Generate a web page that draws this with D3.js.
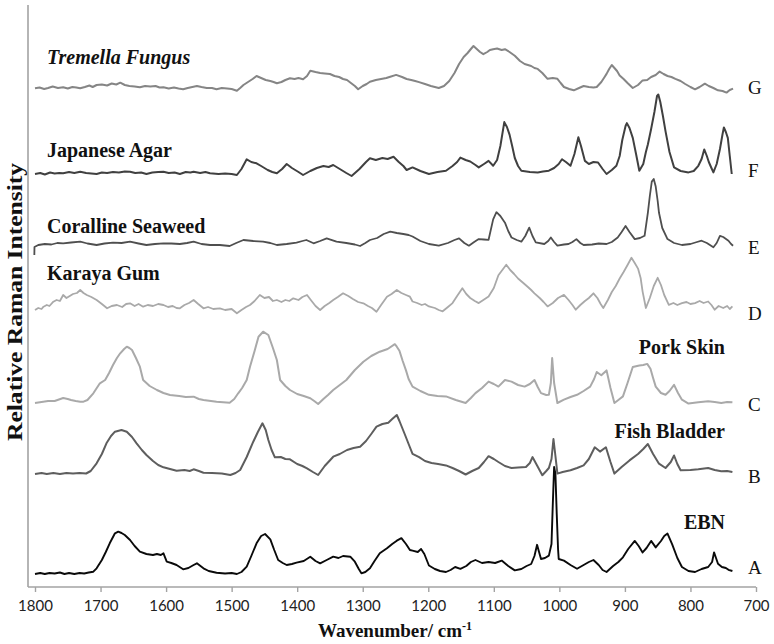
<!DOCTYPE html>
<html>
<head>
<meta charset="utf-8">
<script src="https://cdn.jsdelivr.net/npm/d3@7"></script>
<style>
  html, body { margin: 0; padding: 0; background: #fff; }
  svg { display: block; }
</style>
</head>
<body>
<svg id="chart" width="774" height="644"></svg>
<script>
// ---------- DATA (wavenumber cm-1, relative intensity above each trace's baseline) ----------
const xTicks = [1800, 1700, 1600, 1500, 1400, 1300, 1200, 1100, 1000, 900, 800, 700];
const seriesIds = ["A", "B", "C", "D", "E", "F", "G"];
const seriesNames = ["EBN", "Fish Bladder", "Pork Skin", "Karaya Gum", "Coralline Seaweed", "Japanese Agar", "Tremella Fungus"];
const seriesOffsets = [13, 113, 184, 277, 341, 413, 498];

const spectrumA = [[1800,0],[1792,1],[1785,0],[1778,1],[1770,0.5],[1762,1.5],[1755,0],[1748,1],[1740,0],[1732,1],[1725,0.5],[1718,1.5],[1711,2.3],[1706,5.7],[1698,14],[1692,22],[1686,30.7],[1678,40.7],[1673,42.3],[1668,41],[1663,39],[1655,34],[1648,28],[1640,22.3],[1630,20],[1620,19],[1614,20],[1608,19],[1604,20.7],[1599,12.3],[1592,11],[1584,9],[1574,4.7],[1566,6],[1558,9],[1553,10.7],[1543,5.7],[1535,3],[1523,1.3],[1510,0.5],[1500,1],[1492,0],[1485,2],[1477,7.3],[1470,18],[1462,30.7],[1455,38],[1449,40],[1441,34.7],[1435,24],[1429,14],[1422,11],[1416,9],[1408,10],[1401,11.3],[1390,13],[1380,17.3],[1372,13],[1365,10.7],[1355,14],[1345,17.3],[1337,16],[1330,18],[1319,17.3],[1312,12.3],[1306,5],[1302,0.7],[1296,2],[1289,5.7],[1282,13],[1274,20.7],[1263,25.7],[1255,30],[1248,33.3],[1241,35.8],[1234,30],[1228,24],[1224,23.3],[1216,22],[1211,25],[1206,20],[1199,8.5],[1190,5],[1182,3],[1173,2],[1166,4],[1159,7],[1151,5.2],[1142,8],[1135,12],[1128,14],[1118,11],[1108,12],[1098,11],[1088,13.4],[1078,8],[1068,3.6],[1058,5],[1050,8],[1043,10],[1038,18],[1034,29.2],[1031,22],[1028,15],[1022,16],[1016,18.4],[1012,30],[1010,70],[1008,107],[1006,100],[1004,60],[1002,25],[1001,15],[993,13.4],[983,9],[973,5.2],[963,9],[955,12],[948,14],[940,9],[934,4],[928,2],[918,8],[910,12],[903,16.7],[895,25],[885,33.1],[879,28],[873,21.6],[867,26],[860,33.1],[853,26.6],[845,33],[840,38],[835,40.4],[828,29.8],[820,16],[813,7],[803,3],[793,2],[783,5],[773,7],[767,12],[764,21.6],[761,16],[758,10.2],[752,7],[746,6],[742,4.2],[736,3]];

const spectrumB = [[1800,0],[1790,1],[1782,0],[1772,1],[1762,0],[1752,1],[1742,0.5],[1732,1],[1722,0.5],[1715,3],[1706,10.7],[1698,20],[1691,30.7],[1684,38],[1678,42.3],[1668,44],[1660,42.3],[1652,37],[1645,30.7],[1637,24],[1630,19],[1620,13],[1612,9],[1604,6.7],[1594,5],[1584,3.3],[1572,4],[1564,3],[1558,4.7],[1550,3],[1543,1.3],[1530,1],[1515,0.5],[1502,-1],[1494,1],[1487,4],[1477,17],[1467,32.3],[1460,42],[1453,50.7],[1448,44],[1444,34],[1439,24],[1434,16.7],[1425,17],[1418,15],[1411,14.7],[1400,10],[1392,8],[1385,5.7],[1376,2],[1368,-1],[1358,8],[1345,17.3],[1335,20],[1324,24],[1314,26],[1304,27.3],[1295,33],[1287,40],[1279,47.3],[1270,50],[1261,51.3],[1255,55],[1248,59],[1244,53],[1236,40],[1230,30],[1224,20.1],[1214,16.8],[1205,13],[1195,11],[1185,10],[1173,8.6],[1163,6],[1153,3],[1143,-0.5],[1133,3],[1123,6],[1115,12],[1108,17.8],[1100,15],[1093,12],[1083,8],[1073,6],[1063,6.5],[1051,7],[1045,11],[1041,16.9],[1034,8.6],[1026,-1.2],[1020,3],[1016,6],[1012,15],[1009,35],[1006,18],[1003,0.4],[995,2],[983,3.7],[973,6],[963,8.6],[955,15],[946,26.7],[938,22.4],[929,26.7],[922,12],[916,0.4],[905,7],[893,13.6],[880,20],[872,25],[865,30],[857,20],[848,10.3],[838,6],[830,12],[825,18.5],[820,10],[815,3.7],[800,4],[788,4.7],[773,6],[763,4],[753,2.7],[744,3],[736,2]];

const spectrumC = [[1800,0],[1790,1],[1780,2],[1770,2],[1757,5],[1750,4],[1745,3],[1738,2],[1731,1.3],[1726,1.3],[1720,3],[1711,9.7],[1701,19.7],[1693,23],[1687,30],[1681,38],[1675,45],[1670,49.7],[1664,54],[1660,56.3],[1656,55],[1652,53],[1646,45],[1640,36.3],[1635,23],[1625,17],[1614,13],[1604,10],[1594,8],[1580,7],[1570,6],[1558,6.3],[1550,4],[1543,3],[1523,1.3],[1503,0.3],[1496,4],[1490,9.7],[1484,15],[1477,23],[1472,36.3],[1465,52],[1459,66.3],[1452,71.3],[1444,68],[1437,55],[1431,43],[1426,23],[1418,17],[1411,13],[1400,9],[1390,7],[1380,4.7],[1374,2],[1368,-1],[1360,4],[1353,8],[1345,13],[1335,18],[1325,23],[1312,33],[1299,41.3],[1287,47],[1274,51.3],[1262,54],[1251,58.8],[1248,56.3],[1244,52.3],[1239,42],[1234,32.6],[1230,24],[1224,16.4],[1212,12],[1199,8.2],[1186,7],[1173,6.6],[1158,3],[1143,0],[1135,5],[1128,9.9],[1118,15],[1108,21.4],[1100,19],[1093,16.4],[1083,23],[1073,21.4],[1063,18],[1053,16.4],[1045,19],[1038,23],[1033,16],[1028,9.9],[1020,8],[1016,8.2],[1013,20],[1011,45],[1008,20],[1003,0],[993,3.3],[983,6],[973,8.2],[963,12],[953,16.4],[947,24],[943,31],[936,27.7],[928,32.6],[922,15],[916,0],[910,3],[903,6.6],[896,20],[888,36],[878,37.5],[872,38],[866,39.1],[861,34.2],[857,25],[853,16.4],[845,10],[838,8.2],[832,12],[825,18.1],[819,10],[813,3.3],[803,-0.6],[788,0.7],[773,1.7],[763,1],[753,0],[744,1],[736,0.7]];

const spectrumD = [[1800,0],[1795,2],[1790,1],[1787,3.3],[1782,5],[1778,4],[1772,8.3],[1767,10],[1762,9],[1757,15],[1752,12],[1747,14],[1742,16],[1736,17],[1731,20],[1726,17],[1721,15],[1714,13],[1706,10],[1698,6],[1690,1.7],[1683,4],[1675,5],[1667,3],[1661,6],[1655,6.7],[1648,4],[1642,6],[1635,3.3],[1628,5],[1620,4],[1612,6],[1604,5],[1597,3],[1590,4],[1584,2],[1579,1.7],[1572,5],[1565,7],[1558,10],[1551,6],[1543,1.7],[1536,3],[1528,1],[1518,1.7],[1510,0],[1500,1],[1492,-3.3],[1485,0],[1478,3],[1472,5],[1465,9],[1457,15],[1450,12],[1443,13],[1437,9],[1431,10],[1424,8],[1418,10],[1412,9],[1406,11.7],[1398,10],[1392,13],[1385,15],[1378,9],[1372,4],[1365,0],[1358,4],[1351,7],[1345,10],[1338,13],[1330,16.7],[1322,14],[1315,11],[1307,8],[1299,6.7],[1292,4],[1286,2],[1279,-1.7],[1272,5],[1263,13.3],[1256,16],[1248,20],[1241,17],[1234,15],[1228,13.3],[1224,8.5],[1217,7],[1210,5],[1205,6],[1199,3.6],[1190,2],[1184,0],[1178,-1.3],[1170,3],[1163,6.9],[1156,14],[1148,21.7],[1142,16],[1136,12],[1129,9],[1123,6.9],[1116,10],[1108,13.5],[1100,22],[1093,34.8],[1087,40],[1081,45.3],[1075,40],[1069,36],[1063,31.5],[1055,27],[1048,23],[1043,20],[1038,16.7],[1030,12],[1024,8],[1018,3.6],[1010,7],[1002,12],[993,15.1],[986,10],[980,5],[975,0.3],[968,5],[961,9],[955,12],[948,16.7],[942,12],[937,6],[933,2],[926,10],[920,18],[914,24],[908,31.5],[902,38],[896,45],[890,52.2],[885,47],[880,41.4],[876,32],[873,18.4],[868,2],[862,12],[856,24],[850,32.2],[845,25],[840,15],[833,5.2],[826,7],[820,5],[813,6.9],[806,8],[800,6],[793,6.9],[786,9],[780,7],[773,8.5],[768,5],[763,0.3],[757,4],[750,2],[744,4],[740,1],[736,3.6]];

const spectrumE = [[1801,-9],[1800.8,-1],[1795,1],[1785,2],[1775,1.5],[1766,3],[1757,2.7],[1745,3.5],[1731,4.3],[1720,2.5],[1706,1],[1694,2.5],[1681,3.3],[1668,3],[1655,4.3],[1642,2.5],[1630,1],[1617,2],[1604,2.7],[1592,2.5],[1579,2],[1568,3],[1558,4.3],[1546,2],[1533,1],[1518,1],[1503,0],[1493,3],[1482,6],[1467,5],[1452,4.3],[1441,3],[1431,1],[1416,2],[1401,3.3],[1392,5],[1386,6],[1375,2.7],[1365,5],[1355,7.7],[1340,4.3],[1325,3],[1312,1.5],[1304,0],[1296,3],[1289,6],[1278,8],[1268,12],[1258,14.3],[1248,13],[1238,12],[1230,11],[1224,9.5],[1212,5],[1199,2],[1184,0.3],[1170,3],[1160,6],[1153,7.6],[1145,3],[1138,0.3],[1130,4],[1123,6.9],[1115,6.5],[1108,6.2],[1101,26.6],[1096,33.8],[1090,30],[1083,23.3],[1078,15],[1073,8.5],[1065,6],[1058,4.3],[1052,10],[1046,18.4],[1041,10],[1036,3.6],[1023,2],[1017,5],[1013,8.5],[1008,4],[1003,0.3],[993,1.5],[986,2],[980,4],[974,6.9],[968,3],[963,1],[950,1.5],[940,2.5],[928,2],[920,4],[911,8.5],[905,14],[899,20],[893,14],[885,6.9],[877,8],[870,10.2],[865,33.2],[862,50],[859,64.4],[856,67],[853,59.4],[850,45],[848,33.2],[843,18],[835,6.9],[825,3],[813,1],[800,2],[790,4],[783,5.3],[775,3],[765,-1.3],[760,3],[755,10.2],[750,9],[742,5.3],[738,2],[735,0.3]];

const spectrumF = [[1800,0],[1792,1],[1785,-0.5],[1777,1.5],[1770,0.5],[1763,1],[1757,0.7],[1748,2],[1740,1],[1731,2.3],[1722,1],[1714,0.5],[1706,0],[1698,1.5],[1690,1],[1681,2],[1672,1.5],[1663,2.5],[1655,2.3],[1647,1],[1638,1.5],[1630,0],[1621,1.5],[1612,2],[1604,2.3],[1596,1],[1587,1.5],[1579,0],[1570,2],[1563,1.5],[1558,2.3],[1548,1],[1540,2],[1533,0.7],[1520,0],[1510,0.5],[1500,0],[1492,-1],[1485,5],[1477,14.7],[1470,12],[1462,10.7],[1455,8],[1445,4],[1438,2],[1431,0.7],[1423,5],[1416,10],[1408,6],[1398,2],[1391,-1],[1380,3],[1370,6],[1360,8],[1352,7],[1345,9],[1335,5],[1325,1],[1317,-2],[1305,5],[1295,12],[1289,15.7],[1280,14],[1270,16],[1262,15],[1253,17.3],[1245,12],[1238,8],[1233,4],[1224,6.6],[1212,3],[1199,0],[1186,2],[1173,3.3],[1163,8],[1156,12],[1151,16.4],[1143,14],[1136,12.5],[1128,9],[1123,6.6],[1115,10],[1108,13.1],[1101,8.2],[1095,14],[1090,28],[1084,51.9],[1080,47],[1076,39.4],[1072,28],[1068,16],[1063,8],[1058,3.3],[1045,2],[1033,1.6],[1025,2.5],[1016,3.3],[1008,6],[1001,10],[996,14.8],[990,12],[983,8.2],[977,20],[971,36.8],[967,28],[961,13.1],[955,10],[948,12],[941,11.5],[934,5],[928,0],[920,4],[913,8.2],[908,18],[904,34],[899,48],[897,50.9],[893,46],[888,36.1],[883,20],[878,3.3],[872,10],[868,22],[865,29.5],[860,45],[855,62],[851,78],[849,79.5],[846,72],[842,58],[838,42.7],[832,22],[825,6.6],[815,3],[803,1.6],[795,3],[788,8.2],[783,15],[779,24.6],[775,18],[772,12],[768,6],[765,1.6],[760,10],[755,25],[751,40],[749,46.6],[746,42],[743,36.1],[740,18],[737,0]];

const spectrumG = [[1800,0.7],[1793,1.5],[1786,0],[1780,1],[1773,2.5],[1765,1],[1757,1.7],[1750,0.5],[1743,2],[1737,1.5],[1731,0.7],[1724,2],[1717,3.5],[1712,2],[1706,4],[1698,4.5],[1690,3.5],[1683,5.5],[1676,4.5],[1670,6.3],[1663,4],[1656,3],[1648,2.5],[1640,1.7],[1632,3],[1624,2.5],[1616,3],[1610,1.5],[1604,1.7],[1596,0.5],[1588,1.5],[1581,0.5],[1574,-0.3],[1567,1],[1560,2],[1553,3],[1546,2],[1538,1],[1530,1],[1523,-0.3],[1515,1],[1507,0.5],[1500,0],[1492,-1.7],[1487,1],[1482,4],[1475,7],[1468,10],[1462,13],[1455,11],[1448,9],[1441,8],[1436,7],[1431,5.7],[1424,7],[1418,9],[1411,10.7],[1404,10],[1398,11],[1391,9.7],[1385,13],[1380,18.3],[1372,17],[1365,16],[1358,15.5],[1350,15],[1343,13],[1336,12],[1330,10],[1324,9],[1318,6],[1312,3],[1307,-0.3],[1300,3],[1294,5],[1289,7.3],[1280,9],[1272,10],[1264,11],[1258,12.3],[1249,14.1],[1240,12],[1233,10],[1226,9],[1220,8],[1214,6.9],[1205,5],[1196,3],[1190,2],[1184,1],[1176,3],[1168,8],[1160,16],[1153,25],[1146,32],[1140,36],[1135,40],[1131,43],[1126,40],[1121,37],[1116,34.8],[1110,37],[1106,39],[1101,39.8],[1095,40.5],[1088,39],[1083,39.8],[1076,37],[1068,33.2],[1060,28],[1053,25],[1043,23],[1038,21],[1033,20.1],[1026,16],[1018,10.2],[1010,11],[1003,10.2],[998,6],[993,2],[985,0],[978,-1.3],[970,1],[963,3],[955,2],[948,1.5],[943,2],[936,7],[931,12],[928,15.1],[924,20],[920,24],[916,21],[912,18],[908,13.5],[902,10],[896,6],[888,1],[880,4],[873,8.6],[866,9],[860,12],[853,14],[847,17.4],[841,15],[835,13],[829,12],[823,10.2],[815,8],[808,5],[800,2],[793,-0.3],[786,2],[778,5.3],[772,3],[765,1],[758,-1.3],[751,-2],[745,-3.6],[740,-1],[735,0.4]];

const spectra = [spectrumA, spectrumB, spectrumC, spectrumD, spectrumE, spectrumF, spectrumG];

// ---------- STYLE ----------
const lineColors = ["#0a0a0a", "#5e5e5e", "#a9a9a9", "#a9a9a9", "#4f4f4f", "#404040", "#858585"];
const lineWidths = [1.9, 2, 2, 1.8, 1.8, 2, 2];
const namePos = [
  {x: 725, y: 529, anchor: "end", italic: false},
  {x: 725, y: 438, anchor: "end", italic: false},
  {x: 725, y: 354, anchor: "end", italic: false},
  {x: 47, y: 280, anchor: "start", italic: false},
  {x: 47, y: 233, anchor: "start", italic: false},
  {x: 47, y: 157, anchor: "start", italic: false},
  {x: 47, y: 64, anchor: "start", italic: true}
];

const svg = d3.select("#chart");
const x = d3.scaleLinear().domain([1800, 700]).range([35, 756]);
const y = d3.scaleLinear().domain([0, 582]).range([587, 5]);
const axisColor = "#a3a3a3";

// axes lines
svg.append("line").attr("x1", 28).attr("x2", 28).attr("y1", y(582)).attr("y2", y(0))
  .attr("stroke", axisColor).attr("stroke-width", 1.6);

const xAxis = d3.axisBottom(x).tickValues(xTicks).tickSize(5).tickFormat(d3.format("d"));
const gx = svg.append("g").attr("transform", `translate(0,${y(0)})`).call(xAxis);
gx.select(".domain").remove();
gx.selectAll(".tick line").attr("stroke", axisColor).attr("stroke-width", 1.4);
gx.selectAll(".tick text").attr("font-family", "Lato, 'Open Sans', sans-serif")
  .attr("font-size", 15).attr("fill", "#222").attr("y", 13).attr("dy", "0.71em");
svg.append("line").attr("x1", 28).attr("x2", x(700)).attr("y1", y(0)).attr("y2", y(0))
  .attr("stroke", axisColor).attr("stroke-width", 1.6);

// spectra
const line = d3.line().x(d => x(d[0])).y(d => d[1]);
spectra.forEach((s, i) => {
  svg.append("path")
    .datum(s.map(p => [p[0], y(p[1] + seriesOffsets[i])]))
    .attr("d", line)
    .attr("fill", "none")
    .attr("stroke", lineColors[i])
    .attr("stroke-width", lineWidths[i])
    .attr("stroke-linejoin", "round");
});

// trace letters
const letterBaseline = [574, 483, 411, 320, 254, 177, 94];
seriesIds.forEach((id, i) => {
  svg.append("text").attr("x", 748).attr("y", letterBaseline[i])
    .attr("font-family", "'Liberation Serif', 'Times New Roman', serif")
    .attr("font-size", 19).attr("fill", "#111").text(id);
});

// sample names
seriesNames.forEach((n, i) => {
  const p = namePos[i];
  svg.append("text").attr("x", p.x).attr("y", p.y)
    .attr("text-anchor", p.anchor)
    .attr("font-family", "'Liberation Serif', 'Times New Roman', serif")
    .attr("font-size", 20).attr("font-weight", "bold")
    .attr("font-style", p.italic ? "italic" : "normal")
    .attr("fill", "#111").text(n);
});

// axis titles
const xt = svg.append("text").attr("x", 395).attr("y", 637).attr("text-anchor", "middle")
  .attr("font-family", "'Liberation Serif', 'Times New Roman', serif")
  .attr("font-size", 19).attr("font-weight", "bold").attr("fill", "#111");
xt.append("tspan").text("Wavenumber/ cm");
xt.append("tspan").attr("font-size", 12).attr("dy", -7).text("-1");

svg.append("text")
  .attr("transform", "translate(22,302) rotate(-90)")
  .attr("text-anchor", "middle")
  .attr("font-family", "'Liberation Serif', 'Times New Roman', serif")
  .attr("font-size", 21).attr("font-weight", "bold").attr("fill", "#111")
  .attr("textLength", 278).attr("lengthAdjust", "spacingAndGlyphs")
  .text("Relative Raman Intensity");
</script>
</body>
</html>
